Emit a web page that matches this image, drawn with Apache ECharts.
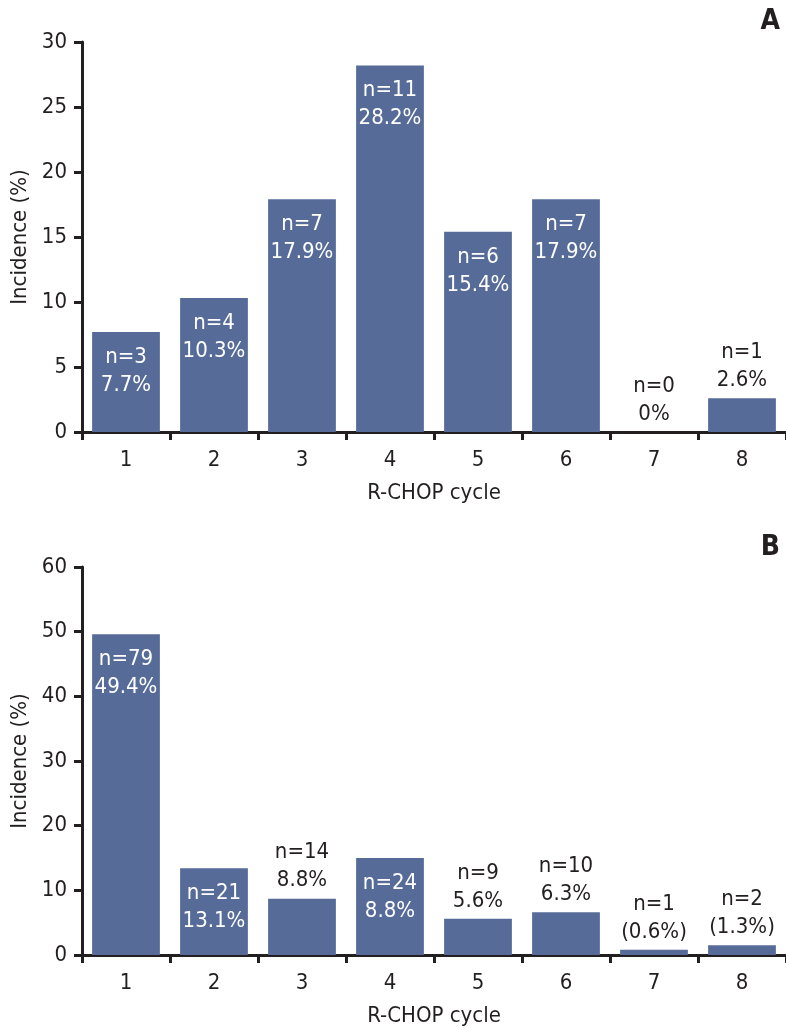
<!DOCTYPE html>
<html>
<head>
<meta charset="utf-8">
<script src="https://cdn.jsdelivr.net/npm/echarts@6/dist/echarts.min.js"></script>
<style>
html,body{margin:0;padding:0;background:#fff;}
#c{width:786px;height:1028px;}
</style>
</head>
<body>
<div id="c"></div>
<script>
const categories = ['1','2','3','4','5','6','7','8'];
const valuesA = [7.7, 10.3, 17.9, 28.2, 15.4, 17.9, 0, 2.6];
const countsA = ['n=3','n=4','n=7','n=11','n=6','n=7','n=0','n=1'];
const pctA = ['7.7%','10.3%','17.9%','28.2%','15.4%','17.9%','0%','2.6%'];
const valuesB = [49.6, 13.4, 8.7, 15.0, 5.6, 6.6, 0.8, 1.5];
const countsB = ['n=79','n=21','n=14','n=24','n=9','n=10','n=1','n=2'];
const pctB = ['49.4%','13.1%','8.8%','8.8%','5.6%','6.3%','(0.6%)','(1.3%)'];
const yTicksA = {min:0, max:30, interval:5};
const yTicksB = {min:0, max:60, interval:10};

const FONT = "'Liberation Sans Narrow','DejaVu Sans Condensed','Noto Sans',sans-serif";
const TXT = '#231f20';
const BAR = '#566b98';

function buildData(values, counts, pcts, max){
  return values.map((v,i)=>{
    const inside = v/max > 0.18;
    return {
      value: v,
      label: {
        show: true,
        position: inside ? 'insideTop' : 'top',
        distance: inside ? 11 : 4,
        color: inside ? '#ffffff' : TXT,
        fontFamily: FONT,
        fontSize: 22,
        lineHeight: 28,
        align: 'center',
        formatter: counts[i] + '\n' + pcts[i]
      }
    };
  });
}

function xAx(gi){
  return {
    gridIndex: gi, type:'category', data: categories,
    name:'R-CHOP cycle', nameLocation:'middle', nameGap:50,
    nameTextStyle:{fontFamily:FONT, fontSize:22, color:TXT},
    axisLine:{show:true, lineStyle:{color:TXT, width:3}},
    axisTick:{show:true, alignWithLabel:false, length:8, lineStyle:{color:TXT, width:3}},
    axisLabel:{fontFamily:FONT, fontSize:22, color:TXT, margin:17},
    splitLine:{show:false}
  };
}
function yAx(gi, t){
  return {
    gridIndex: gi, type:'value', min:t.min, max:t.max, interval:t.interval,
    name:'Incidence (%)', nameLocation:'middle', nameGap:44, nameRotate:90,
    nameTextStyle:{fontFamily:FONT, fontSize:22, color:TXT},
    axisLine:{show:true, lineStyle:{color:TXT, width:3}},
    axisTick:{show:true, inside:false, length:8, lineStyle:{color:TXT, width:3}},
    axisLabel:{fontFamily:FONT, fontSize:22, color:TXT, margin:15},
    splitLine:{show:false}
  };
}

const chart = echarts.init(document.getElementById('c'), null, {renderer:'canvas'});
chart.setOption({
  animation:false,
  backgroundColor:'#ffffff',
  title:[
    {text:'A', right:1, top:3, textStyle:{fontFamily:FONT, fontSize:28, fontWeight:'bold', color:TXT}},
    {text:'B', right:1, top:529, textStyle:{fontFamily:FONT, fontSize:28, fontWeight:'bold', color:TXT}}
  ],
  grid:[
    {left:82, top:42, width:704, height:390, containLabel:false},
    {left:82, top:567, width:704, height:390, containLabel:false}
  ],
  xAxis:[xAx(0), xAx(1)],
  yAxis:[yAx(0, yTicksA), yAx(1, yTicksB)],
  series:[
    {type:'bar', xAxisIndex:0, yAxisIndex:0, barWidth:'77%', itemStyle:{color:BAR},
     data: buildData(valuesA, countsA, pctA, yTicksA.max)},
    {type:'bar', xAxisIndex:1, yAxisIndex:1, barWidth:'77%', itemStyle:{color:BAR},
     data: buildData(valuesB, countsB, pctB, yTicksB.max)}
  ]
});
</script>
</body>
</html>
